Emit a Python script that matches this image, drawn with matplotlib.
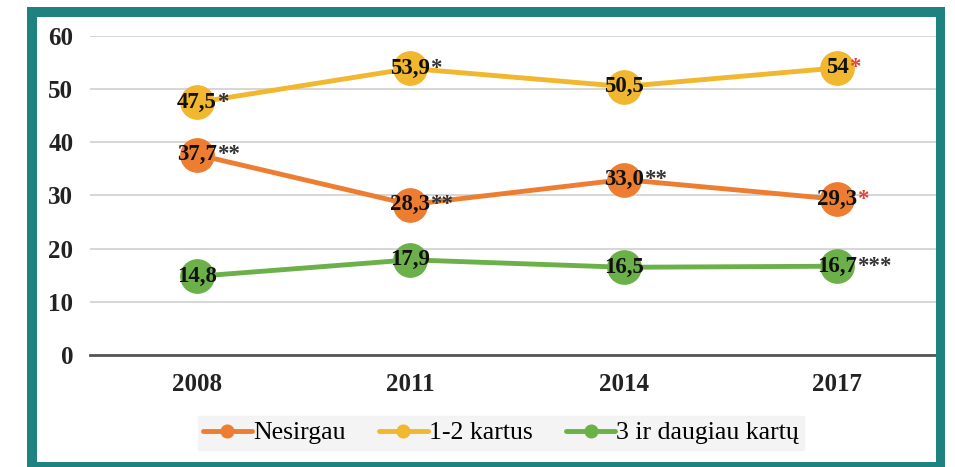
import matplotlib.pyplot as plt
from matplotlib.patches import Rectangle

years = ['2008', '2011', '2014', '2017']
nesirgau = [37.7, 28.3, 33.0, 29.3]
kartus_1_2 = [47.5, 53.9, 50.5, 54]
daugiau_3 = [14.8, 17.9, 16.5, 16.7]

# number text + asterisks (last one of first two series has red asterisk)
nesirgau_lbl = ['37,7', '28,3', '33,0', '29,3']
nesirgau_ast = ['**', '**', '**', '*']
kartus_lbl = ['47,5', '53,9', '50,5', '54']
kartus_ast = ['*', '*', '', '*']
daugiau_lbl = ['14,8', '17,9', '16,5', '16,7']
daugiau_ast = ['', '', '', '***']

series = [
    ('Nesirgau', nesirgau, nesirgau_lbl, nesirgau_ast, '#ED7D31', [None, None, None, '#E8403A']),
    ('1-2 kartus', kartus_1_2, kartus_lbl, kartus_ast, '#F0B72F', [None, None, None, '#E8403A']),
    ('3 ir daugiau kartų', daugiau_3, daugiau_lbl, daugiau_ast, '#6CB04A', [None, None, None, None]),
]

plt.rcParams['font.family'] = ['Liberation Serif', 'DejaVu Serif']

W, H = 955, 467
fig = plt.figure(figsize=(W / 100, H / 100), dpi=100)
ax = fig.add_axes([90 / W, (H - 355) / H, (937 - 90) / W, (355 - 36) / H])

x = range(len(years))
for name, vals, lbls, asts, col, astcols in series:
    ax.plot(x, vals, color=col, lw=3.5, marker='o', ms=24, mec=col, mfc=col,
            label=name, zorder=3, solid_capstyle='round')
    for i, (v, l, a) in enumerate(zip(vals, lbls, asts)):
        t = ax.text(i, v, l, ha='center', va='center', fontsize=16.5,
                    fontweight='bold', color='#111111', zorder=5)
        if a:
            ax.annotate(a, xy=(1, 0.5), xycoords=t, va='center', ha='left',
                        fontsize=16.5, fontweight='bold',
                        color=astcols[i] or '#333333', zorder=5)

ax.set_xlim(-0.5, 3.467)
ax.set_ylim(0, 60)
ax.set_yticks(range(0, 61, 10))
ax.set_xticks(list(x))
ax.set_xticklabels(years)
ax.grid(axis='y', color='#D0D0D0', lw=1.2)
ax.set_axisbelow(True)
for s in ['left', 'right', 'top']:
    ax.spines[s].set_visible(False)
ax.spines['bottom'].set_color('#555555')
ax.spines['bottom'].set_linewidth(2)
ax.spines['bottom'].set_zorder(4)
ax.tick_params(axis='both', length=0, labelsize=18)
ax.tick_params(axis='y', pad=12)
ax.tick_params(axis='x', pad=13)
for lab in ax.get_xticklabels() + ax.get_yticklabels():
    lab.set_fontweight('bold')
    lab.set_color('#222222')

leg = fig.legend(loc='center', bbox_to_anchor=(501 / W, (H - 433) / H), ncol=3,
                 frameon=True, fancybox=False, fontsize=18.5, markerscale=0.38,
                 handlelength=1.9, columnspacing=1.3, handletextpad=0.05,
                 borderpad=0.2, borderaxespad=0)
leg.get_frame().set_facecolor('#F2F2F2')
leg.get_frame().set_edgecolor('#F2F2F2')

# teal frame around the picture (pixel boxes, measured from the top)
teal = '#1E8280'
frame_boxes = [(27, 7, 945, 17), (27, 7, 37, 467), (936, 7, 945, 467), (27, 462, 945, 467)]
for x0, y0, x1, y1 in frame_boxes:
    fig.patches.append(Rectangle((x0 / W, (H - y1) / H), (x1 - x0) / W, (y1 - y0) / H,
                                 transform=fig.transFigure, color=teal, lw=0, zorder=10))

fig.savefig('out.png', dpi=100)
